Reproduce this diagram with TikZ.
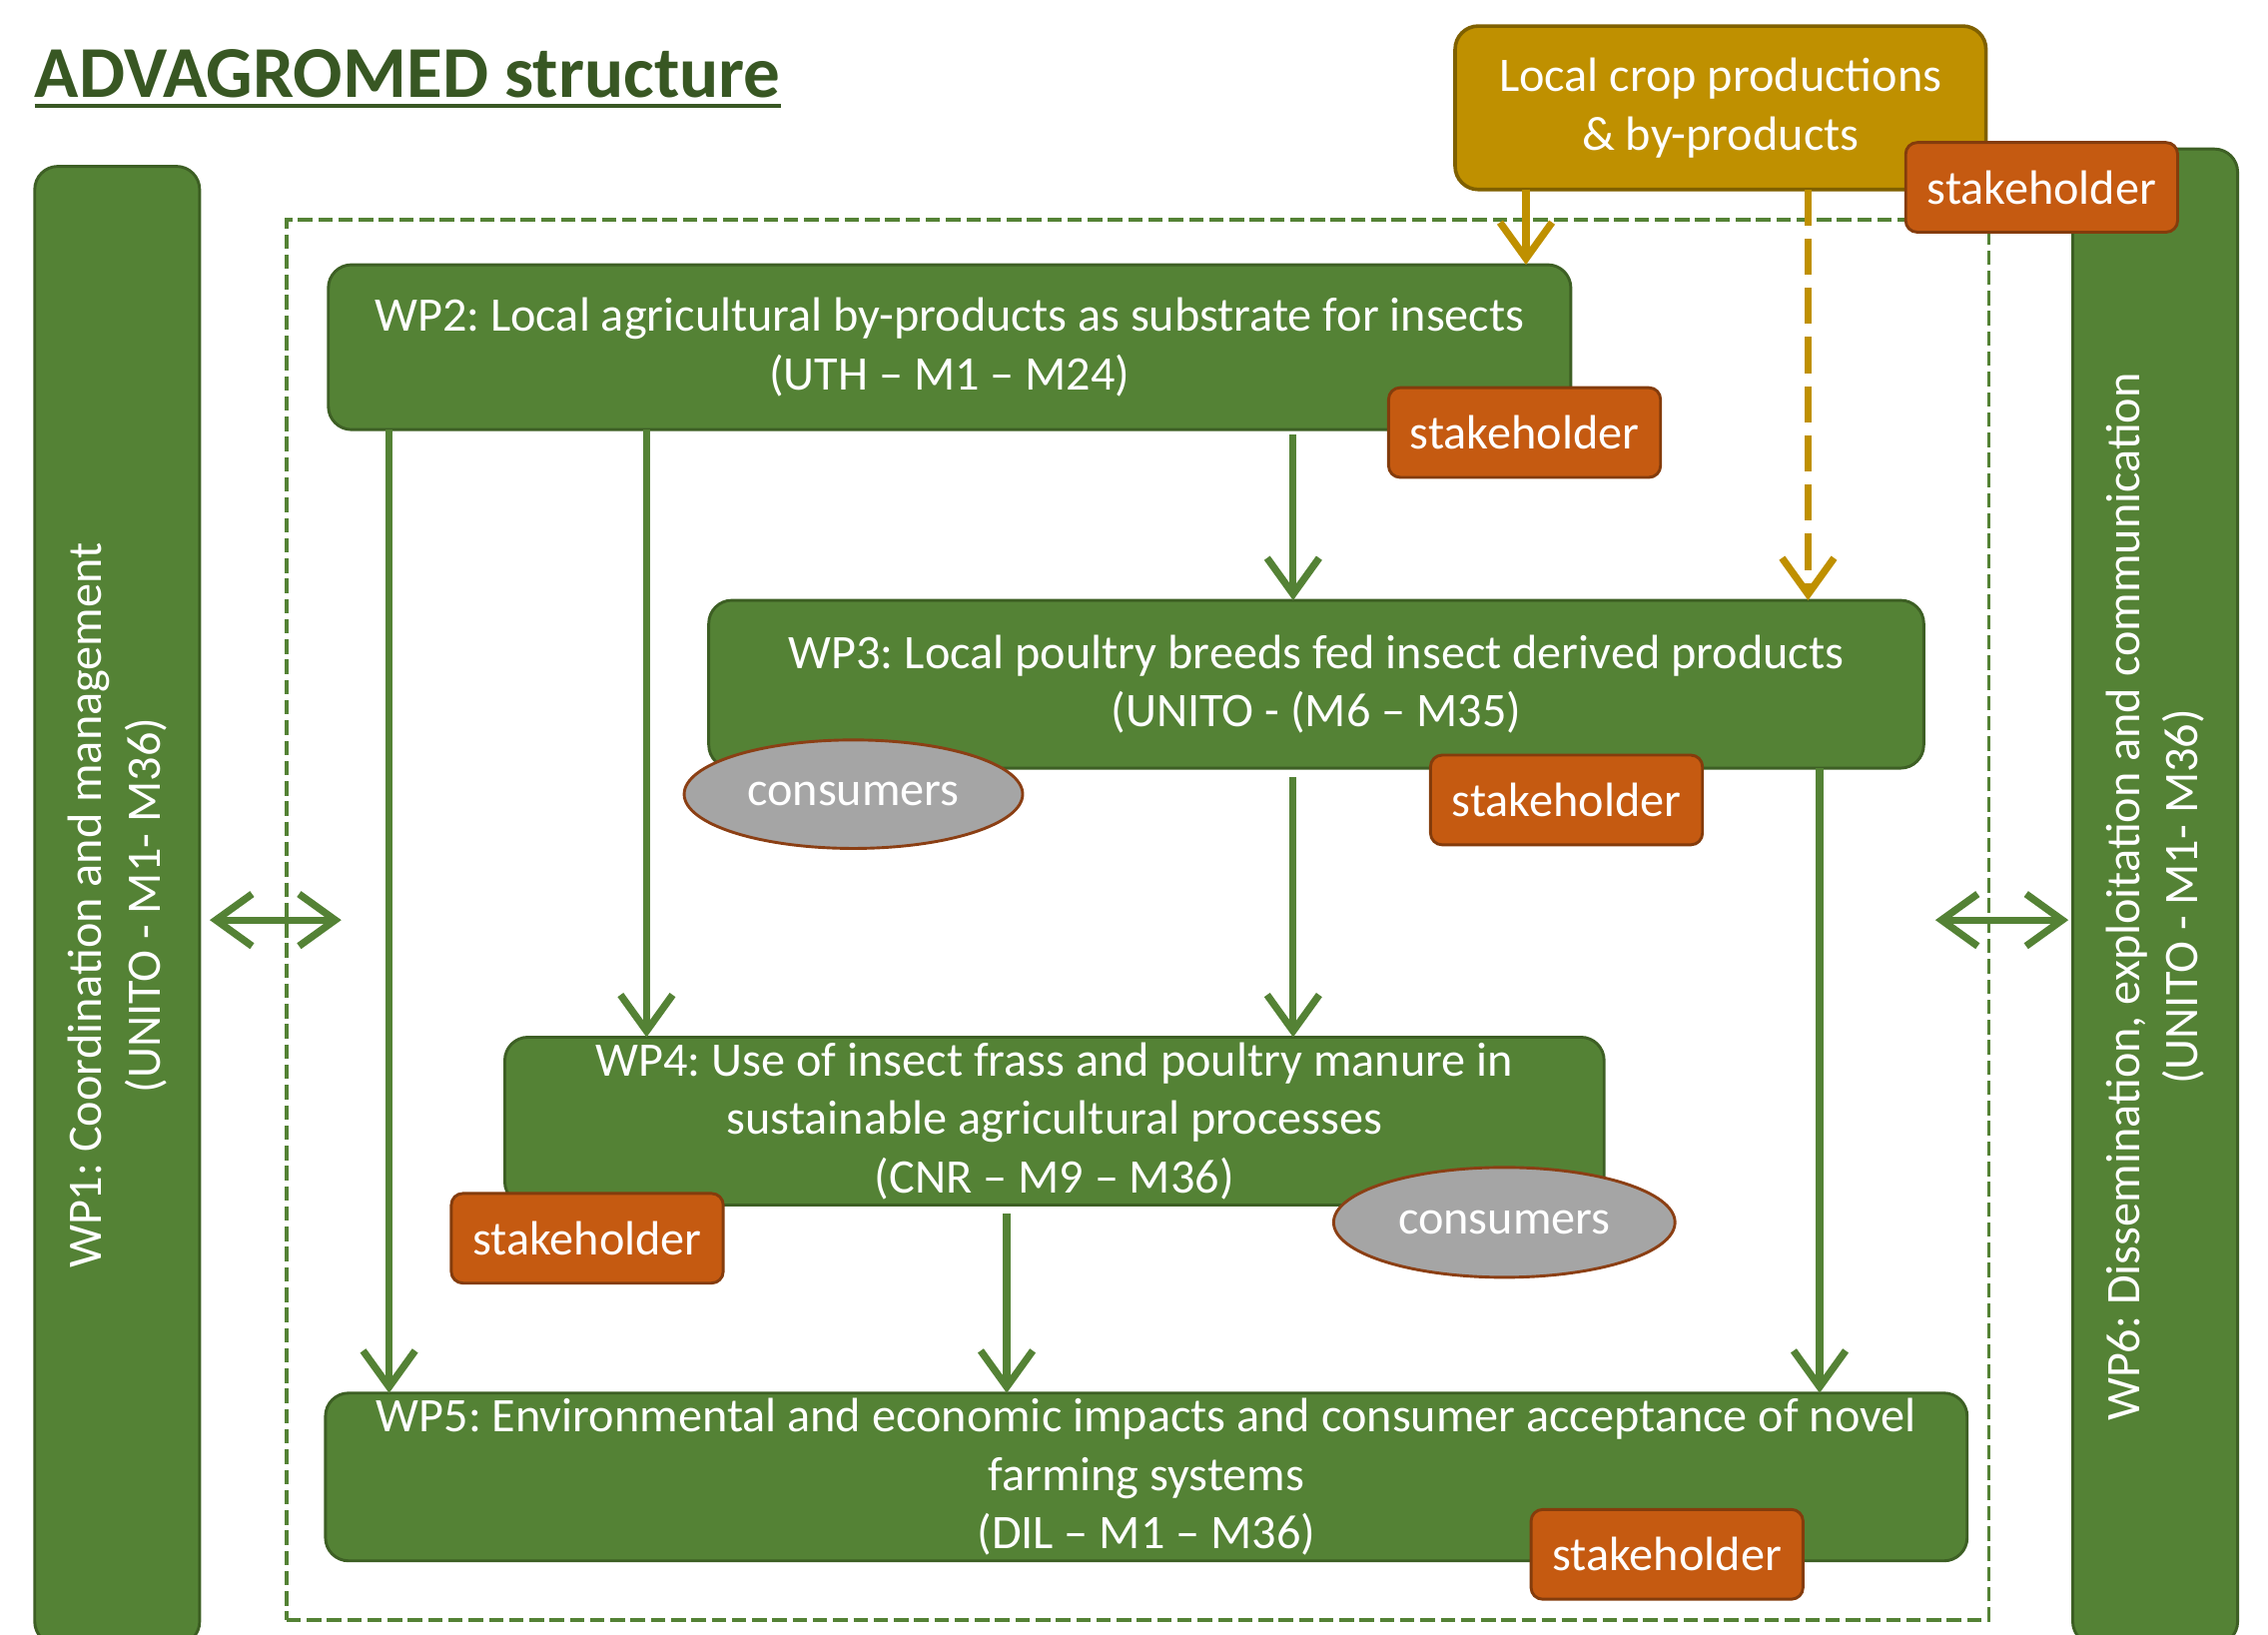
\documentclass[tikz,border=0pt]{standalone}
\usepackage{fontspec}
\setmainfont{Carlito}
\usetikzlibrary{arrows.meta,shapes.geometric}
\definecolor{wpgreen}{HTML}{548235}
\definecolor{wpborder}{HTML}{3D5F24}
\definecolor{titlegreen}{HTML}{385723}
\definecolor{cropgold}{HTML}{BF9000}
\definecolor{cropborder}{HTML}{7F6000}
\definecolor{shorange}{HTML}{C55A11}
\definecolor{shborder}{HTML}{843C0C}
\definecolor{consgray}{HTML}{A5A5A5}
\definecolor{consborder}{HTML}{8B3F14}
\frenchspacing
\begin{document}
\begin{tikzpicture}[x=1pt,y=-1pt,
  every node/.style={inner sep=0pt, outer sep=0pt, text=white, align=center,
    font=\fontsize{33.3}{40.5}\selectfont},
  wpbox/.style={draw=wpborder, fill=wpgreen, line width=2pt, rounded corners=16pt},
  cropbox/.style={draw=cropborder, fill=cropgold, line width=2.5pt, rounded corners=16pt},
  shbox/.style={draw=shborder, fill=shorange, line width=2pt, rounded corners=8pt,
    minimum width=188pt, minimum height=62pt},
  consell/.style={ellipse, draw=consborder, fill=consgray, line width=2pt},
  frame/.style={draw=wpgreen, line width=2.5pt, dash pattern=on 10pt off 4pt},
  garrow/.style={draw=wpgreen, line width=5pt,
    -{Straight Barb[length=25pt,width=36pt]}},
  dgarrow/.style={draw=wpgreen, line width=5pt,
    {Straight Barb[length=25pt,width=36pt]}-{Straight Barb[length=25pt,width=36pt]}},
  goldarrow/.style={draw=cropgold, line width=5pt,
    -{Straight Barb[length=25pt,width=36pt]}}
]
\clip (0,0) rectangle (1568,1130);

% title
\node[anchor=base west, text=titlegreen, font=\fontsize{50.5}{60}\selectfont\bfseries]
  (title) at (24,67) {ADVAGROMED structure};
\draw[titlegreen, line width=3pt] ([yshift=-6pt]title.base west) -- ([yshift=-6pt]title.base east);

% dashed frame
\node[frame, minimum width=1177pt, minimum height=968pt] (frame) at (786.5,636) {};

% side work packages
\node[wpbox, rotate=90, minimum width=1022pt, minimum height=114pt] (wp1) at (81,626)
  {WP1: Coordination and management\\(UNITO - M1- M36)};
\node[wpbox, rotate=90, minimum width=1034pt, minimum height=114pt] (wp6) at (1490,620)
  {WP6: Dissemination, exploitation and communication\\(UNITO - M1- M36)};

% crop box
\node[cropbox, minimum width=367pt, minimum height=113pt] (crop) at (1189.5,74.5)
  {\raisebox{-2pt}{Local crop productions}\\\raisebox{-2pt}{\& by-products}};

% central work packages
\node[wpbox, minimum width=859pt, minimum height=114pt] (wp2) at (656.5,240)
  {WP2: Local agricultural by-products as substrate for insects\\(UTH -- M1 -- M24)};
\node[wpbox, minimum width=840pt, minimum height=116pt] (wp3) at (910,473)
  {WP3: Local poultry breeds fed insect derived products\\(UNITO - (M6 -- M35)};
\node[wpbox, minimum width=760pt, minimum height=116pt] (wp4) at (729,775)
  {WP4: Use of insect frass and poultry manure in\\sustainable agricultural processes\\(CNR -- M9 -- M36)};
\node[wpbox, minimum width=1135pt, minimum height=116pt] (wp5) at (792.5,1021)
  {WP5: Environmental and economic impacts and consumer acceptance of novel\\farming systems\\(DIL -- M1 -- M36)};

% arrow x positions
\coordinate (xa) at (269,0);
\coordinate (xb) at (447,0);
\coordinate (xc) at (894,0);
\coordinate (xd) at (696,0);
\coordinate (xe) at (1258,0);
\coordinate (xg1) at (1055,0);
\coordinate (xg2) at (1250,0);

% gold arrows
\draw[goldarrow] (crop.south -| xg1) -- (wp2.north -| xg1);
\draw[goldarrow, dash pattern=on 25pt off 9pt] (crop.south -| xg2) -- (wp3.north -| xg2);

% green arrows
\draw[garrow] (wp2.south -| xa) -- (wp5.north -| xa);
\draw[garrow] (wp2.south -| xb) -- (wp4.north -| xb);
\draw[garrow] ([yshift=-3pt]wp2.south -| xc) -- (wp3.north -| xc);
\draw[garrow] ([yshift=-6pt]wp3.south -| xc) -- (wp4.north -| xc);
\draw[garrow] ([yshift=-6pt]wp4.south -| xd) -- (wp5.north -| xd);
\draw[garrow] (wp3.south -| xe) -- (wp5.north -| xe);

% side double arrows
\coordinate (l1) at (145,636);
\coordinate (l2) at (236,636);
\coordinate (r1) at (1338,636);
\coordinate (r2) at (1430,636);
\draw[dgarrow] (l1) -- (l2);
\draw[dgarrow] (r1) -- (r2);

% stakeholders and consumers
\node[shbox] (sh0) at (1411.5,129.5) {stakeholder};
\node[shbox] (sh2) at (1054,299) {stakeholder};
\node[shbox] (sh3) at (1083,553) {stakeholder};
\node[shbox] (sh4) at (406,856) {stakeholder};
\node[shbox] (sh5) at (1152.5,1074.5) {stakeholder};
\node[consell, minimum width=234pt, minimum height=75pt] (cons3) at (590,549) {consumers};
\node[consell, minimum width=236pt, minimum height=76pt] (cons4) at (1040,845) {consumers};
\end{tikzpicture}
\end{document}
